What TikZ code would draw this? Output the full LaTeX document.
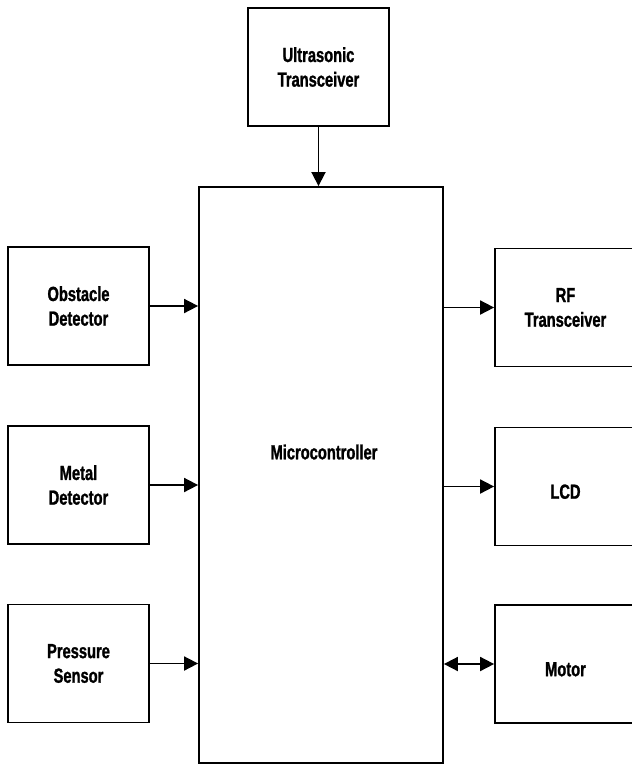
\documentclass[tikz,border=0pt]{standalone}
\usepackage{fontspec}
\setmainfont{Liberation Sans}[FakeStretch=0.72, BoldFeatures={FakeBold=1.2}]
\usepackage{tikz}
\usetikzlibrary{arrows.meta, positioning, calc}

\begin{document}
\begin{tikzpicture}[
  x=0.025cm, y=-0.025cm,
  block/.style={draw, line width=1.2pt, minimum width=3.525cm, minimum height=2.95cm, align=center, font=\fontsize{14.5}{17.5}\selectfont\bfseries, inner sep=1mm},
  link/.style={line width=1.2pt, -{Triangle[length=10pt,width=10pt]}}
]
\useasboundingbox (0,0) rectangle (632,765);

\node[block] (ut) at (318.5,67) {Ultrasonic\\ Transceiver};
\node[block, minimum width=6.1cm, minimum height=14.4cm] (mc) at (321,475) {};
\node[font=\fontsize{14.5}{17.5}\selectfont\bfseries] (mctext) at (324,452) {Microcontroller};

\node[block] (ob) at (78.5,306) {Obstacle\\ Detector};
\node[block] (md) at (78.5,485) {Metal\\ Detector};
\node[block] (ps) at (78.5,663.5) {Pressure\\ Sensor};

\node[block] (rf) at (565.5,307.5) {RF\\ Transceiver};
\node[block] (lcd) at (565.5,486.5) {\mbox{}\\ LCD};
\node[block] (mot) at (565.5,664) {\mbox{}\\ Motor};

\draw[link] (ut.south) -- (ut.south |- mc.north);
\draw[link] (ob.east) -- (ob.east -| mc.west);
\draw[link] (md.east) -- (md.east -| mc.west);
\draw[link] (ps.east) -- (ps.east -| mc.west);
\draw[link] (rf.west -| mc.east) -- (rf.west);
\draw[link] (lcd.west -| mc.east) -- (lcd.west);
\draw[link, {Triangle[length=10pt,width=10pt]}-{Triangle[length=10pt,width=10pt]}] (mot.west -| mc.east) -- (mot.west);
\end{tikzpicture}
\end{document}
